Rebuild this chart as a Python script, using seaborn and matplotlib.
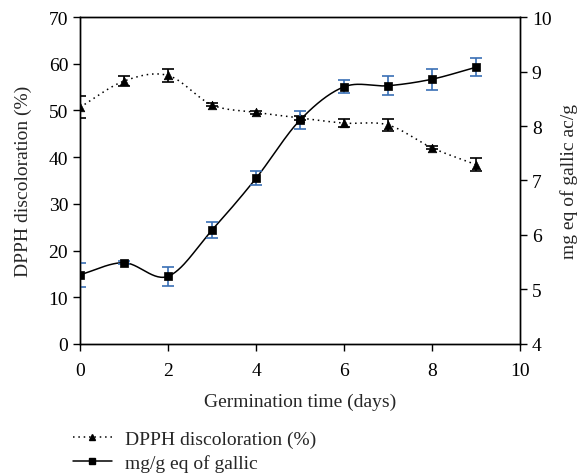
import numpy as np
import pandas as pd
import matplotlib
matplotlib.use('Agg')
import matplotlib.pyplot as plt
import seaborn as sns
from matplotlib.lines import Line2D

# data
days = [0, 1, 2, 3, 4, 5, 6, 7, 8, 9]
dpph = [50.7, 56.3, 57.5, 51.2, 49.6, 48.4, 47.3, 46.9, 42.0, 38.4]
dpph_err = [2.4, 1.0, 1.3, 0.3, 0.3, 0.5, 0.8, 1.2, 0.3, 1.4]
gallic = [5.27, 5.49, 5.24, 6.09, 7.04, 8.11, 8.72, 8.74, 8.86, 9.08]
gallic_err = [0.22, 0.03, 0.17, 0.15, 0.13, 0.17, 0.12, 0.17, 0.19, 0.17]

sns.set_style('ticks')
plt.rcParams['font.family'] = ['Liberation Serif', 'DejaVu Serif']
plt.rcParams['font.size'] = 14


def smooth(x, y, n=30):
    """Hermite curve through the points (like a smoothed line in a spreadsheet)"""
    x = np.asarray(x, float)
    y = np.asarray(y, float)
    m = np.gradient(y, x)
    xs, ys = [], []
    for i in range(len(x) - 1):
        h = x[i + 1] - x[i]
        t = np.linspace(0, 1, n, endpoint=False)
        h00 = 2 * t**3 - 3 * t**2 + 1
        h10 = t**3 - 2 * t**2 + t
        h01 = -2 * t**3 + 3 * t**2
        h11 = t**3 - t**2
        xs.append(x[i] + t * h)
        ys.append(h00 * y[i] + h10 * h * m[i] + h01 * y[i + 1] + h11 * h * m[i + 1])
    xs.append([x[-1]])
    ys.append([y[-1]])
    return np.concatenate(xs), np.concatenate(ys)


fig = plt.figure(figsize=(5.82, 4.77), dpi=100)
ax = fig.add_axes([0.1375, 0.277, 0.756, 0.685])
ax2 = ax.twinx()

# DPPH (left axis)
sx, sy = smooth(days, dpph)
sns.lineplot(x=sx, y=sy, ax=ax, color='black', linestyle=(0, (1, 2.5)), linewidth=1.1)
ax.errorbar(days, dpph, yerr=dpph_err, fmt='none', ecolor='black', elinewidth=1.2,
            capsize=4, capthick=1.2)
sns.scatterplot(x=days, y=dpph, ax=ax, marker='^', color='black', s=38, edgecolor='black',
                linewidth=0.5, zorder=5)

# gallic acid (right axis)
gx, gy = smooth(days, gallic)
sns.lineplot(x=gx, y=gy, ax=ax2, color='black', linewidth=1.1)
ax2.errorbar(days, gallic, yerr=gallic_err, fmt='none', ecolor='#3a6fb5', elinewidth=1.2,
             capsize=4, capthick=1.2)
sns.scatterplot(x=days, y=gallic, ax=ax2, marker='s', color='black', s=26, edgecolor='black',
                linewidth=0.5, zorder=5)

ax.set_xlim(0, 10)
ax.set_ylim(0, 70)
ax2.set_ylim(4, 10)
ax.set_xticks(range(0, 11, 2))
ax.set_yticks(range(0, 71, 10))
ax2.set_yticks(range(4, 11))
ax.set_xlabel('Germination time (days)', labelpad=10)
ax.set_ylabel('DPPH discoloration (%)', labelpad=12)
ax2.set_ylabel('mg eq of gallic ac/g', labelpad=6)

for a in (ax, ax2):
    for s in a.spines.values():
        s.set_linewidth(1.0)
        s.set_color('black')
    a.tick_params(direction='out', length=5, width=1.0, colors='black')
ax.tick_params(axis='x', pad=8)

handles = [
    Line2D([], [], color='black', linestyle=(0, (1, 2.5)), marker='^', markersize=5,
           linewidth=1.1),
    Line2D([], [], color='black', marker='s', markersize=4.5, linewidth=1.1),
]
fig.legend(handles, ['DPPH discoloration (%)', 'mg/g eq of gallic'],
           loc='upper left', bbox_to_anchor=(0.125, 0.096), frameon=False,
           handlelength=2.0, handletextpad=0.7, labelspacing=0.3, borderaxespad=0,
           borderpad=0)

plt.savefig('out.png', dpi=100)
